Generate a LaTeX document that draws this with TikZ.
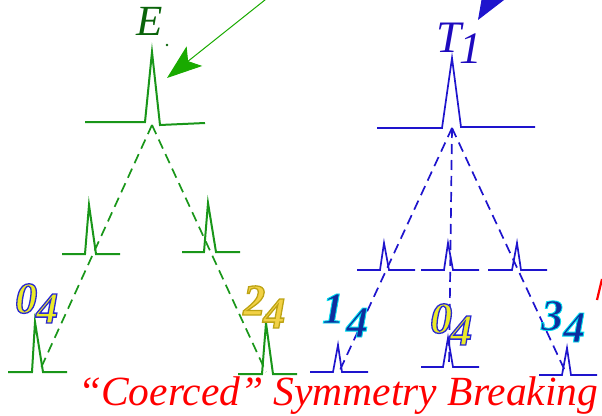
\documentclass[tikz,border=0pt]{standalone}
\usepackage{fontspec}
\setmainfont{Liberation Serif}
\usetikzlibrary{arrows.meta}
\definecolor{gline}{RGB}{25,150,25}
\definecolor{gdark}{RGB}{10,100,10}
\definecolor{garrow}{RGB}{25,170,0}
\definecolor{bline}{RGB}{30,20,205}
\definecolor{bdark}{RGB}{30,10,190}
\tikzset{
  gspike/.style={draw=gline, line width=2pt, line join=miter},
  bspike/.style={draw=bline, line width=1.7pt, line join=miter},
  gdash/.style={draw=gline, line width=1.7pt, dash pattern=on 10pt off 6pt},
  bdash/.style={draw=bline, line width=1.7pt, dash pattern=on 10pt off 6pt},
  dig/.style={anchor=base west, inner sep=0pt, font=\fontsize{44}{44}\selectfont\bfseries\itshape},
  lettr/.style={anchor=base west, inner sep=0pt, font=\fontsize{45}{45}\selectfont\itshape},
}
% outlined text: #1 line width, #2 fill rgb, #3 stroke rgb, #4 text
\newcommand\olab[4]{{\special{pdf:literal direct q 2 Tr #1 w #3 RG #2 rg}#4\special{pdf:literal direct Q}}}
\newcommand\ylab[1]{\olab{1.3}{0.92 0.92 0.16}{0.16 0.16 0.82}{#1}}
\newcommand\glab[1]{\olab{1.3}{0.95 0.82 0.27}{0.74 0.64 0.08}{#1}}
\newcommand\clab[1]{\olab{0.9}{0.06 0.18 0.62}{0 0.88 0.94}{#1}}
\begin{document}
\begin{tikzpicture}[x=1pt,y=-1pt]
\useasboundingbox (0,0) rectangle (602,415);
% ---------- green tree ----------
\draw[gspike] (85,122) -- (145,122) -- (152,52) -- (160,125) -- (205,123);
\coordinate (gtop) at (152,125);
\draw[gspike] (62,254) -- (85,254) -- (89,205) -- (96,254) -- (120,254);
\draw[gspike] (182,252) -- (204,252) -- (208,203) -- (216,252) -- (240,252);
\draw[gspike] (8,372) -- (32,372) -- (35,322) -- (43,372) -- (67,372);
\coordinate (gbl) at (40,370);
\draw[gspike] (238,374) -- (262,374) -- (266,323) -- (273,374) -- (297,374);
\coordinate (gbr) at (266,372);
\draw[gdash] (gtop) -- (gbl);
\draw[gdash] (gtop) -- (gbr);
\node[lettr, text=gdark, font=\fontsize{43}{43}\selectfont\itshape] (E) at (136,35) {E};
\fill[gdark] (167,45) circle (1.3pt);
\coordinate (gas) at (285,-16);
\coordinate (gat) at (167,78);
\draw[garrow, line width=1pt, -{Stealth[length=35pt,width=25pt,inset=8pt]}] (gas) -- (gat);
% ---------- blue tree ----------
\draw[bspike] (377,128) -- (442,128) -- (452,58) -- (461,127) -- (535,127);
\coordinate (btop) at (452,128);
\draw[bspike] (357,270) -- (380,270) -- (384,243) -- (389,270) -- (415,270);
\draw[bspike] (421,270) -- (444,270) -- (448,243) -- (453,270) -- (479,270);
\draw[bspike] (488,270) -- (512,270) -- (517,243) -- (521,270) -- (547,270);
\draw[bspike] (310,372) -- (333,372) -- (338,345) -- (342,372) -- (368,372);
\draw[bspike] (421,367) -- (443,367) -- (448,338) -- (453,367) -- (479,367);
\draw[bspike] (539,375) -- (562,375) -- (567,348) -- (571,375) -- (597,375);
\coordinate (bbl) at (340,370);
\coordinate (bbc) at (449,367);
\coordinate (bbr) at (566,373);
\draw[bdash] (btop) -- (bbl);
\draw[bdash] (btop) -- (bbc);
\draw[bdash] (btop) -- (bbr);
\node[lettr, text=bdark] (T) at (436,52) {T\kern-2pt\raisebox{-11pt}{1}};
\coordinate (bas) at (530,-66);
\coordinate (bat) at (478,20);
\draw[bline, line width=1pt, -{Stealth[length=36pt,width=28pt,inset=8pt]}] (bas) -- (bat);
% ---------- digit labels ----------
\node[dig] (l0a) at (15,313) {\ylab{0}};
\node[dig] (l0b) at (36,323) {\ylab{4}};
\node[dig] (l2a) at (243,315) {\glab{2}};
\node[dig] (l2b) at (263,328) {\glab{4}};
\node[dig] (l1a) at (322,323) {\clab{1}};
\node[dig] (l1b) at (346,337) {\clab{4}};
\node[dig] (lca) at (430,333) {\ylab{0}};
\node[dig] (lcb) at (450,345) {\ylab{4}};
\node[dig] (l3a) at (541,330) {\clab{3}};
\node[dig] (l3b) at (563,342) {\clab{4}};
% ---------- caption ----------
\node[anchor=base west, inner sep=0pt, text=red, font=\fontsize{41.5}{41.5}\selectfont\itshape] (cap) at (78,405) {“Coerced” Symmetry Breaking};
\draw[red, line width=2.2pt] (597,300) -- (602,279);
\end{tikzpicture}
\end{document}
